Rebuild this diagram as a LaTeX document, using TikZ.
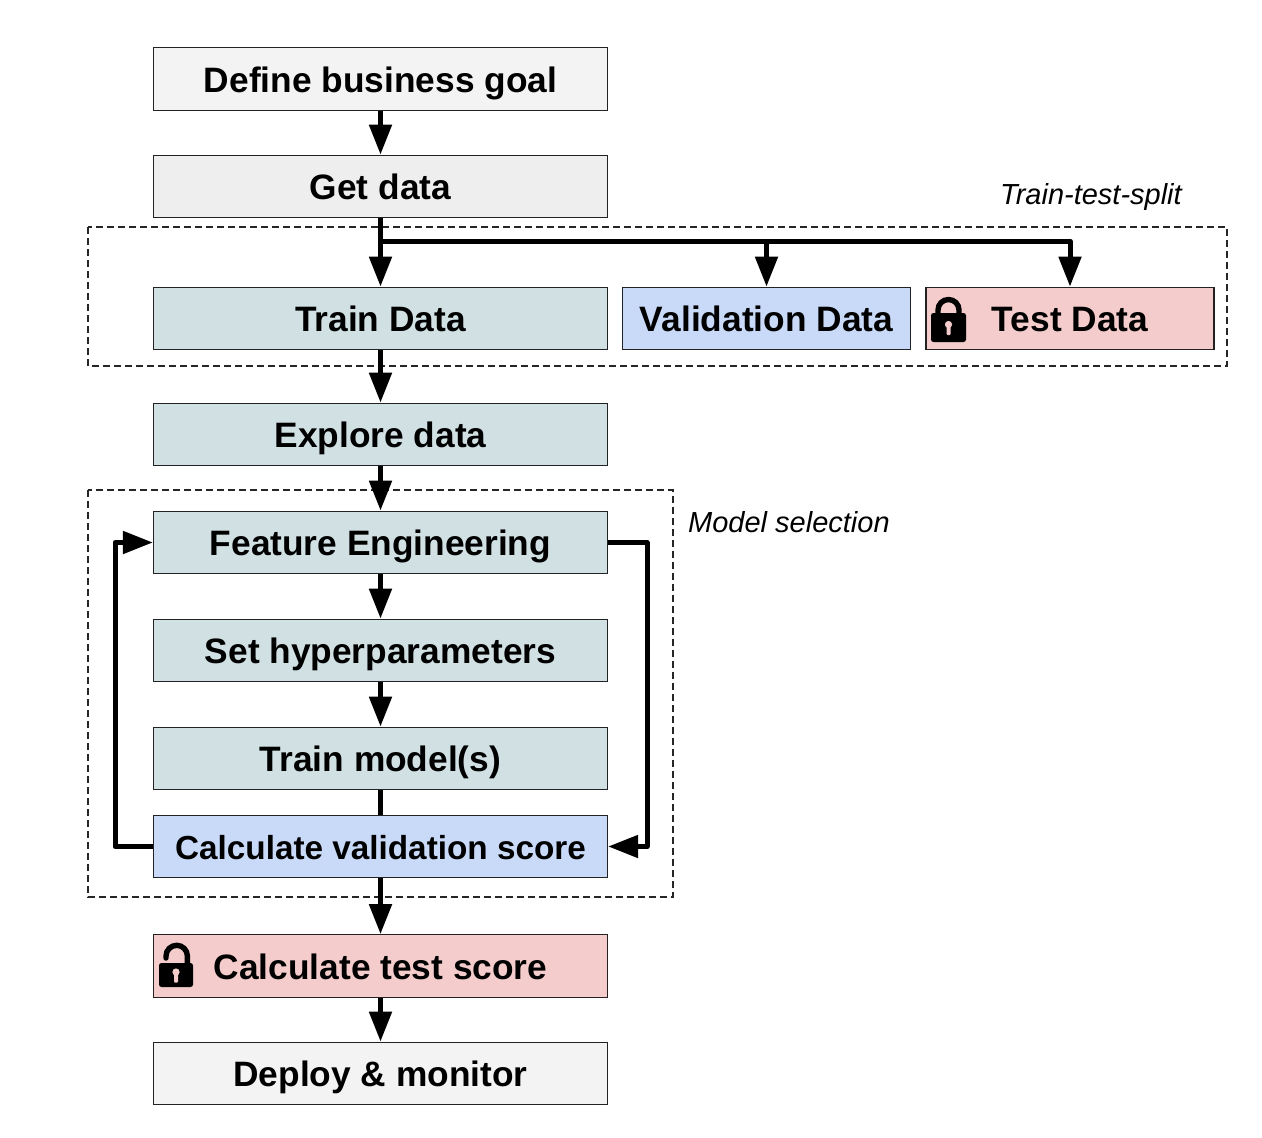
\documentclass[tikz,border=0pt]{standalone}
\usepackage{fontspec}
\setmainfont{Liberation Sans}
\usetikzlibrary{arrows.meta}
\definecolor{cgrayA}{HTML}{F3F3F3}
\definecolor{cgrayB}{HTML}{EEEEEE}
\definecolor{cteal}{HTML}{D0E0E3}
\definecolor{cblue}{HTML}{C9DAF8}
\definecolor{cred}{HTML}{F4CCCC}
\definecolor{cline}{HTML}{222222}
\tikzset{
  x=1pt,y=-1pt,
  flow/.style={draw=cline,line width=1.25pt,minimum height=62.5pt,inner sep=0pt,text height=26pt,text depth=0pt,font=\fontsize{35.3}{40}\selectfont\bfseries,text=black},
  wide/.style={flow,minimum width=454pt},
  narrow/.style={flow,minimum width=288pt},
  conn/.style={draw=black,line width=5pt,line join=round},
  arr/.style={conn,-{Triangle[length=30pt,width=22pt]}},
  frame/.style={draw=black!85,line width=1.2pt,dash pattern=on 7pt off 4pt},
  note/.style={font=\fontsize{29}{34}\selectfont\itshape,inner sep=0pt},
  lockbody/.style={fill=black,rounded corners=2.5pt},
  shackle/.style={draw=black,line width=5.4pt,line cap=round},
}
\newcommand{\lockbodyat}[5]{% left, top, width, height, keyhole centre y offset
  \fill[lockbody] (#1,#2) rectangle ++(#3,#4);
  \fill[cred] (#1+#3/2,#2+#5) circle (3.6);
  \fill[cred,rounded corners=1pt] (#1+#3/2-2,#2+#5) rectangle ++(4,10.5);
}
\begin{document}
\begin{tikzpicture}
\useasboundingbox (0,0) rectangle (1262,1138);
\draw[frame] (88,227) rectangle (1227,366);
\draw[frame] (88,490) rectangle (673,897);
\node[wide,fill=cgrayA] (goal) at (380.5,79) {Define business goal};
\node[wide,fill=cgrayB] (get) at (380.5,186.5) {Get data};
\node[wide,fill=cteal] (train) at (380.5,318.5) {Train Data};
\node[narrow,fill=cblue] (val) at (766.5,318.5) {Validation Data};
\node[narrow,fill=cred] (test) at (1070,318.5) {Test Data};
\node[wide,fill=cteal] (explore) at (380.5,434.5) {Explore data};
\node[wide,fill=cteal] (feat) at (380.5,542.5) {Feature Engineering};
\node[wide,fill=cteal] (hyper) at (380.5,650.5) {Set hyperparameters};
\node[wide,fill=cteal] (model) at (380.5,758.5) {Train model(s)};
\node[wide,fill=cblue,font=\fontsize{33.3}{40}\selectfont\bfseries] (vscore) at (380.5,846.5) {Calculate validation score};
\node[wide,fill=cred] (tscore) at (380.5,966) {Calculate test score};
\node[wide,fill=cgrayA] (deploy) at (380.5,1073.5) {Deploy \& monitor};
\node[note,anchor=west] (ttsplit) at (1000,196.5) {Train-test-split};
\node[note,anchor=west] (msel) at (688,522) {Model selection};
% connectors
\coordinate (branch) at (380.5,241);
\draw[arr] (goal) -- (get);
\draw[arr] (get) -- (train);
\draw[arr] (branch) -| (val);
\draw[arr] (branch) -| (test);
\draw[arr] (train) -- (explore);
\draw[arr] (explore) -- (feat);
\draw[arr] (feat) -- (hyper);
\draw[arr] (hyper) -- (model);
\draw[conn] (model) -- (vscore);
\draw[arr] (vscore) -- (tscore);
\draw[arr] (tscore) -- (deploy);
\coordinate (lft) at (115,0);
\coordinate (rgt) at (647,0);
\draw[arr] (vscore.west) -| (lft |- feat.west) -- (feat.west);
\draw[arr] (feat.east) -| (rgt |- vscore.east) -- (vscore.east);
% locks
\draw[shackle] (938,316) -- (938,310) arc (180:360:10.5) -- (959,316);
\lockbodyat{931}{313}{35}{29}{11.5}
\draw[shackle] (166,958) -- (166,956) arc (180:360:10.7) -- (187.4,968);
\lockbodyat{159}{963}{34}{24}{9}
\end{tikzpicture}
\end{document}
